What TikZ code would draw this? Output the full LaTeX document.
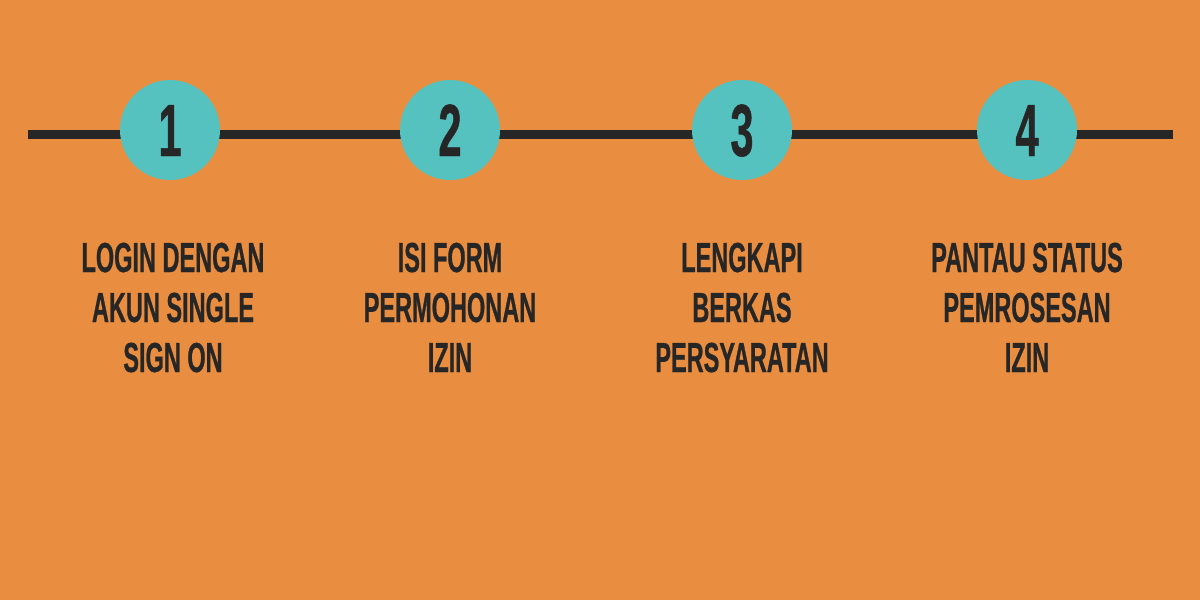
\documentclass[tikz,border=0pt]{standalone}
\usepackage{fontspec}
\setmainfont{Liberation Sans}[FakeStretch=0.56,FakeBold=0.6]
\definecolor{bgor}{HTML}{E98D40}
\definecolor{teal}{HTML}{55C2BF}
\definecolor{dark}{HTML}{262626}
\begin{document}
\begin{tikzpicture}[x=1pt,y=-1pt,
  stepnum/.style={circle,fill=teal,minimum size=100pt,inner sep=0pt},
  numtxt/.style={anchor=base,inner sep=0pt,text=dark,font=\bfseries\fontsize{74}{74}\selectfont},
  lbl/.style={anchor=base,inner sep=0pt,text=dark,font=\bfseries\fontsize{42}{50}\selectfont},
  bar/.style={draw=dark,line width=9pt}]
\fill[bgor] (0,0) rectangle (1200,600);
\useasboundingbox (0,0) rectangle (1200,600);
\coordinate (ls) at (28,134.5);
\coordinate (le) at (1173,134.5);
\draw[bar] (ls) -- (le);
\node[stepnum] (c1) at (170,130) {};
\node[stepnum] (c2) at (450,130) {};
\node[stepnum] (c3) at (742,130) {};
\node[stepnum] (c4) at (1027,130) {};
\node[numtxt] (n1) at (170,156) {1};
\node[numtxt] (n2) at (450,156) {2};
\node[numtxt] (n3) at (742,156) {3};
\node[numtxt] (n4) at (1027,156) {4};
\node[lbl] (a1) at (173,272) {LOGIN DENGAN};
\node[lbl] (a2) at (173,322) {AKUN SINGLE};
\node[lbl] (a3) at (173,372) {SIGN ON};
\node[lbl] (b1) at (450,272) {ISI FORM};
\node[lbl] (b2) at (450,322) {PERMOHONAN};
\node[lbl] (b3) at (450,372) {IZIN};
\node[lbl] (d1) at (742,272) {LENGKAPI};
\node[lbl] (d2) at (742,322) {BERKAS};
\node[lbl] (d3) at (742,372) {PERSYARATAN};
\node[lbl] (e1) at (1027,272) {PANTAU STATUS};
\node[lbl] (e2) at (1027,322) {PEMROSESAN};
\node[lbl] (e3) at (1027,372) {IZIN};
\end{tikzpicture}
\end{document}
